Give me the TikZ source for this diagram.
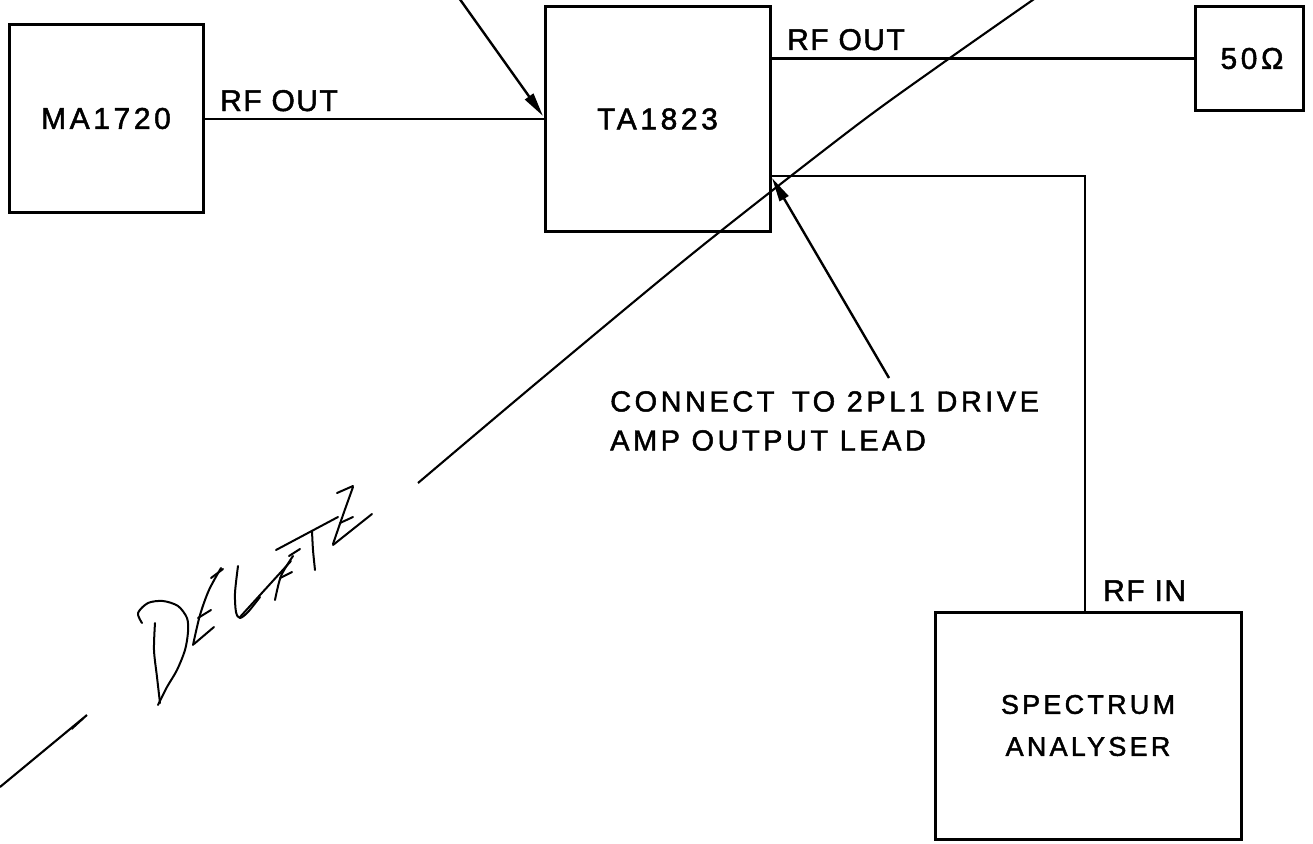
\documentclass[tikz,border=0pt]{standalone}
\usepackage{fontspec}
\setmainfont{Liberation Sans}
\newfontfamily\lblfont[LetterSpace=12,FakeBold=1.6]{Liberation Sans}
\newfontfamily\lblfontn[LetterSpace=5,FakeBold=1.6]{Liberation Sans}
\usetikzlibrary{arrows.meta}
\begin{document}
\begin{tikzpicture}[x=1pt,y=-1pt,
  blk/.style={draw,line width=3pt,inner sep=0pt,align=center,font=\lblfont\fontsize{30}{42}\selectfont},
  wire/.style={line width=2.8pt},
  ptr/.style={line width=2.4pt,-{Triangle[length=24pt,width=10pt]}},
  cross/.style={line width=2.1pt},
  hand/.style={line width=2pt,line cap=round,line join=round},
  lbl/.style={inner sep=0pt,font=\lblfontn\fontsize{30}{36}\selectfont},
  note/.style={inner sep=0pt,align=left,font=\lblfont\fontsize{29}{39}\selectfont}]
\useasboundingbox (0,0) rectangle (1313,843);

% blocks
\node[blk,minimum width=194pt,minimum height=187pt] (ma) at (106,118.5) {MA1720};
\node[blk,minimum width=225pt,minimum height=224pt] (ta) at (657.5,119) {TA1823};
\node[blk,minimum width=108pt,minimum height=103pt] (r50) at (1249,58.5) {\hspace*{6pt}50Ω};
\node[blk,font=\lblfont\fontsize{27}{42}\selectfont,minimum width=306pt,minimum height=227pt] (sa) at (1088,725.5) {SPECTRUM\\ANALYSER};

% connections
\coordinate (jn) at (1085,176);
\draw[wire] (ma.east |- ta.west) -- (ta.west);
\draw[wire] (r50.west -| ta.east) -- (r50.west);
\draw[wire] (ta.east |- jn) -- (jn) -- (jn |- sa.north);

% labels
\node[lbl,anchor=base west] (rf1) at (220,111) {RF OUT};
\node[lbl,anchor=base west] (rf2) at (787,50) {RF OUT};
\node[lbl,anchor=base west] (rfin) at (1103,601) {RF IN};
\node[note,anchor=north west] (conn) at (610,391) {CONNECT\hspace{6pt} TO 2PL1 DRIVE\\AMP OUTPUT LEAD};

% pointer arrows
\coordinate (tailA) at (459,-2);
\coordinate (tipA) at (543,116);
\coordinate (tailB) at (889,378);
\coordinate (tipB) at (772,178);
\draw[ptr] (tailA) -- (tipA);
\draw[ptr] (tailB) -- (tipB);

% crossing-out line
\draw[cross] plot[smooth] coordinates {(1037,-3) (940,65) (853,128) (697,250) (540,380) (418,483)};
\draw[cross] (0,787) -- (87,715);
\draw[hand,line width=1.4pt] (72,729) -- (84,718);

% handwritten DELETE
\draw[hand] plot[smooth] coordinates {(142,623) (138,613) (148,603) (163,601) (178,606) (187,618) (188,632) (185,650) (177,670) (167,687) (158,705)};
\draw[hand] plot[smooth] coordinates {(155,623) (154,650) (157,677) (160,703)};
\draw[hand] plot[smooth] coordinates {(193,645) (200,615) (209,590) (221,568)};
\draw[hand] (211,578) -- (223,569);
\draw[hand] (198,618) -- (211,610);
\draw[hand] (194,644) -- (214,627);
\draw[hand] plot[smooth] coordinates {(238,566) (235,593) (236,612) (240,618) (248,612) (260,597)};
\draw[hand] (240,617) -- (291,561);
\draw[hand] plot[smooth] coordinates {(293,556) (281,576) (275,600)};
\draw[hand] (289,556) -- (300,549);
\draw[hand] (280,578) -- (292,572);
\draw[hand] (276,550) -- (338,517);
\draw[hand] plot[smooth] coordinates {(312,531) (313,550) (315,570)};
\draw[hand] (337,493) -- (353,486);
\draw[hand] plot[smooth] coordinates {(353,487) (343,515) (333,544)};
\draw[hand] (333,545) -- (372,514);
\draw[hand] (340,523) -- (353,517);
\end{tikzpicture}
\end{document}
